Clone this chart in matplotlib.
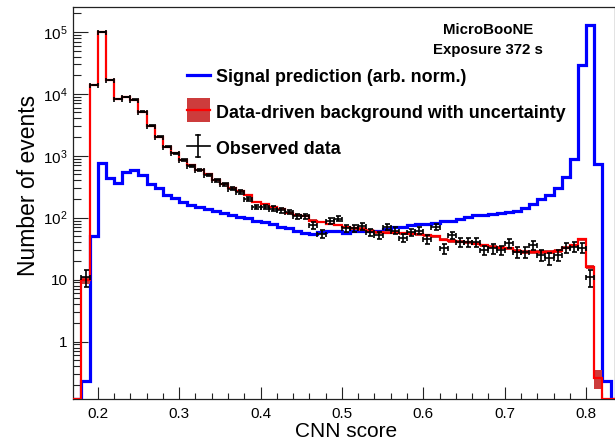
import numpy as np
import matplotlib.pyplot as plt
from matplotlib.ticker import MultipleLocator, LogLocator, FuncFormatter, NullFormatter
from matplotlib.lines import Line2D
from matplotlib.patches import Rectangle

plt.rcParams['font.family'] = ['Liberation Sans', 'DejaVu Sans']
plt.rcParams['mathtext.fontset'] = 'custom'
plt.rcParams['mathtext.rm'] = 'Liberation Sans'
plt.rcParams['mathtext.it'] = 'Liberation Sans:italic'

# 0.01 wide CNN score bins from 0.17 to 0.84
bin_edges = np.linspace(0.17, 0.84, 68)

# signal prediction (arbitrary normalisation), one value per bin
signal = [
    0, 0.23, 50, 770, 430, 370, 540, 590, 490, 350,          # 0.17 - 0.26
    300, 230, 205, 180, 160, 148, 138, 128, 118, 110,       # 0.27 - 0.36
    104, 98, 88, 85, 78, 72, 67, 62, 56, 55,                 # 0.37 - 0.46
    59, 60, 62, 56, 60, 60, 60, 61, 66, 70,                  # 0.47 - 0.56
    71, 76, 79, 80, 83, 88, 90, 97, 103, 109,                # 0.57 - 0.66
    110, 116, 120, 124, 130, 146, 168, 200, 231, 300,        # 0.67 - 0.76
    457, 880, 29500, 131000, 726, 0.23, 0,                   # 0.77 - 0.83
]

# data-driven background estimate
background = [
    0, 9.7, 13800, 100000, 16900, 8300, 8900, 8100, 5150, 3050,  # 0.17 - 0.26
    2030, 1410, 1100, 870, 700, 600, 500, 410, 355, 305,         # 0.27 - 0.36
    268, 235, 180, 165, 150, 140, 120, 112, 108, 90,             # 0.37 - 0.46
    85, 80, 76, 70, 67, 66, 62, 58, 57, 57,                      # 0.47 - 0.56
    56, 55, 54, 52, 50, 44, 42, 41, 40, 38,                      # 0.57 - 0.66
    36, 34, 33, 32, 29, 28, 28, 28, 28, 29,                      # 0.67 - 0.76
    33, 36, 45, 16, 0.26, 0, 0,                                  # 0.77 - 0.83
]

# relative uncertainty on the background
bkg_rel_unc = [
    0, 0.12, 0.01, 0.01, 0.01, 0.01, 0.01, 0.01, 0.01, 0.01,
    0.01, 0.01, 0.03, 0.03, 0.03, 0.03, 0.03, 0.03, 0.03, 0.03,
    0.03, 0.03, 0.03, 0.03, 0.04, 0.04, 0.04, 0.04, 0.04, 0.04,
    0.04, 0.04, 0.04, 0.04, 0.06, 0.06, 0.06, 0.06, 0.06, 0.06,
    0.06, 0.06, 0.06, 0.06, 0.06, 0.06, 0.06, 0.06, 0.06, 0.06,
    0.06, 0.06, 0.06, 0.06, 0.06, 0.06, 0.06, 0.06, 0.06, 0.06,
    0.06, 0.06, 0.06, 0.08, 0.33, 0, 0,
]

# observed events, bins 0.18 - 0.80
data_counts = [
    11, 13800, 100000, 16900, 8300, 8900, 8100, 5150, 3050, 2030,  # 0.18 - 0.27
    1410, 1090, 860, 690, 590, 490, 400, 348, 296, 261,            # 0.28 - 0.37
    200, 149, 149, 140, 132, 124, 105, 105, 75, 55,                # 0.38 - 0.47
    88, 97, 68, 68, 73, 59, 52, 71, 62, 47,                        # 0.48 - 0.57
    59, 62, 45, 71, 32, 52, 40, 40, 40, 30,                        # 0.58 - 0.67
    32, 30, 39, 28, 28, 36, 25, 22, 25, 33,                        # 0.68 - 0.77
    34, 33, 11,                                                    # 0.78 - 0.80
]

W, H = 615, 444
fig = plt.figure(figsize=(W / 100, H / 100), dpi=100)
ax = fig.add_axes([73.3 / W, 45 / H, (W - 73.3) / W, (399 - 7.3) / H])

ylo, yhi = 0.118, 2.5e5
signal = np.array(signal, dtype=float)
background = np.array(background, dtype=float)
bkg_rel_unc = np.array(bkg_rel_unc, dtype=float)
data_counts = np.array(data_counts, dtype=float)
centers = 0.5 * (bin_edges[:-1] + bin_edges[1:])
data_x = centers[1:1 + len(data_counts)]

# empty bins sit on the lower edge of the log axis
ax.stairs(np.clip(signal, ylo, None), bin_edges, color='#0000ff', lw=2.3, zorder=2)
bkg_up = background * (1 + bkg_rel_unc)
bkg_dn = background * (1 - bkg_rel_unc)
ax.stairs(np.clip(bkg_up, ylo, None), bin_edges, baseline=np.clip(bkg_dn, ylo, None),
          fill=True, color='#cd3c3c', lw=0, zorder=3)
ax.stairs(np.clip(background, ylo, None), bin_edges, color='#ff0000', lw=1.6, zorder=4)
ax.errorbar(data_x, data_counts, xerr=0.005, yerr=np.sqrt(data_counts), fmt='none',
            ecolor='black', elinewidth=1.2, capsize=1.8, capthick=1.2, zorder=5)

ax.set_yscale('log')
ax.set_xlim(0.17, 0.17 + (W - 73.3) / 814)
ax.set_ylim(ylo, yhi)

ax.xaxis.set_major_locator(MultipleLocator(0.1))
ax.xaxis.set_minor_locator(MultipleLocator(0.02))
ax.xaxis.set_major_formatter(FuncFormatter(lambda v, p: f'{v:.1f}'))
ax.yaxis.set_major_locator(LogLocator(base=10, numticks=12))
ax.yaxis.set_minor_locator(LogLocator(base=10, subs=np.arange(2, 10), numticks=12))
ax.yaxis.set_minor_formatter(NullFormatter())


def log_label(v, pos):
    k = int(round(np.log10(v)))
    if k == 0:
        return '1'
    if k == 1:
        return '10'
    return r'$10^{%d}$' % k


ax.yaxis.set_major_formatter(FuncFormatter(log_label))

ax.tick_params(axis='both', which='both', direction='in', top=False, right=False,
               color='#222222')
ax.tick_params(axis='x', which='major', length=8.6, width=0.8, pad=6, labelsize=11)
ax.tick_params(axis='x', which='minor', length=4.3, width=0.8)
ax.tick_params(axis='y', which='major', length=11, width=0.8, pad=4, labelsize=11)
ax.tick_params(axis='y', which='minor', length=5.8, width=0.8)
for s in ax.spines.values():
    s.set_linewidth(0.9)
    s.set_color('#222222')

ax.set_xlabel('CNN score', fontsize=15)
ax.xaxis.set_label_coords(0.503, -0.082)
ax.xaxis.label.set_va('center')
ax.set_ylabel('Number of events', fontsize=16.5)
ax.yaxis.set_label_coords(-0.083, 0.545)
ax.yaxis.label.set_va('center')

# legend and labels drawn in figure pixel coordinates
ov = fig.add_axes([0, 0, 1, 1])
ov.set_xlim(0, W)
ov.set_ylim(H, 0)
ov.axis('off')

ov.text(488, 30, 'MicroBooNE', fontsize=10.8, fontweight='bold', ha='center', va='center')
ov.text(488, 50, 'Exposure 372 s', fontsize=10.8, fontweight='bold', ha='center', va='center')

ov.add_line(Line2D([186.7, 210], [75, 75], color='#0000ff', lw=2.3))
ov.add_patch(Rectangle((186.7, 98.3), 23.3, 23.4, color='#cd3c3c', lw=0))
ov.add_line(Line2D([186.7, 210], [110, 110], color='#ff0000', lw=1.6))
ov.add_line(Line2D([197.7, 197.7], [135, 157], color='black', lw=1.2))
ov.add_line(Line2D([186.7, 210], [146.5, 146.5], color='black', lw=1.2))
ov.add_line(Line2D([195.5, 200], [135, 135], color='black', lw=1.2))
ov.add_line(Line2D([195.5, 200], [157, 157], color='black', lw=1.2))

leg_kw = dict(fontsize=12.9, fontweight='bold', ha='left', va='baseline')
ov.text(216, 81.5, 'Signal prediction (arb. norm.)', **leg_kw)
ov.text(216, 117.5, 'Data-driven background with uncertainty', **leg_kw)
ov.text(216, 154, 'Observed data', **leg_kw)

fig.savefig('out.png', dpi=100)
